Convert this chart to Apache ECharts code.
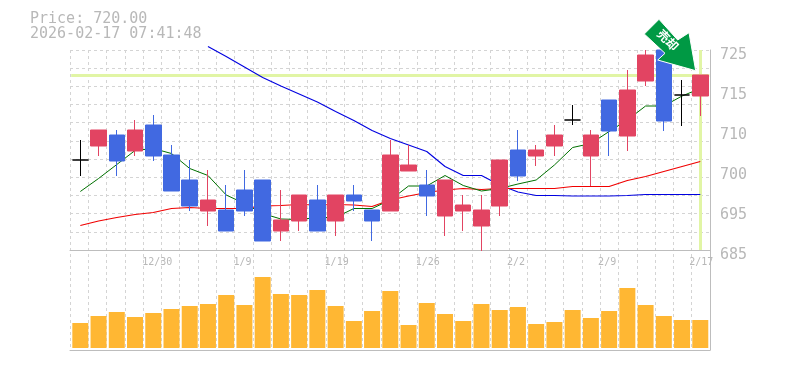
<!DOCTYPE html>
<html>
<head>
<meta charset="utf-8">
<style>
html, body { margin: 0; padding: 0; background: #fff; }
#chart { width: 785px; height: 370px; }
</style>
<script src="https://cdn.jsdelivr.net/npm/echarts@6/dist/echarts.min.js"></script>
</head>
<body>
<div id="chart"></div>
<script>
var dates = ['12/24','12/25','12/26','12/29','12/30','1/5','1/6','1/7','1/8','1/9','1/13','1/14','1/15','1/16','1/19','1/20','1/21','1/22','1/23','1/26','1/27','1/28','1/29','1/30','2/2','2/3','2/4','2/5','2/6','2/9','2/10','2/12','2/13','2/16','2/17']
var opens = [703,705.8,708,704.8,710,704,699,692.8,693,697,699,688.8,690.8,695,690.8,696,693,692.8,700.8,698,691.8,692.8,689.8,693.8,705,703.8,705.8,711,703.8,715,707.8,718.8,725,716,715.8]
var closes = [703,709,702.8,709,703.8,696.8,693.8,695,688.8,692.8,686.8,691,696,688.8,696,694.8,690.8,704,702,695.8,699,694,693,703,699.8,705,708,711,708,708.8,717,724,710.8,716,720]
var lows = [699.8,703.8,699.8,703.8,702.8,696.8,692.8,689.8,688.8,691.8,686.8,686.8,688.8,688.8,687.8,692.8,686.8,692.8,700.8,691.8,687.8,688.8,684.8,691.8,698.8,701.8,703.8,710,697.8,703.8,704.8,717.8,708.8,709.8,711.8]
var highs = [707,709,709,711,712,706,703,701,698,701,699,697,696,698,696,698,693,707,706,701,699,696,696,703,709,706,710,714,709,715,721,725,725,719,720]
var maShort = [696.7,699.3,702.1,704.9,705.3,704.3,701.3,699.9,696,694.3,692.3,691.2,691.1,691.5,691.5,693.3,693.3,695,697.8,697.8,699.9,697.9,696.8,697.3,698.2,699,702,705.5,706.3,708.7,711,713.8,713.8,715.8,717.3]
var maMid = [689.9,690.8,691.5,692.1,692.5,693.3,693.5,693.3,693.3,693.3,693.8,693.9,694.1,694,694.1,694,693.7,695,695.8,696.5,697,697.3,697.1,697.3,697.3,697.3,697.3,697.7,697.7,697.7,698.9,699.7,700.7,701.7,702.7]
var maLong = [null,null,null,null,null,null,null,725.7,723.7,721.6,719.5,717.8,716.2,714.6,712.7,710.9,708.9,707.3,706,704.7,701.7,699.9,699.9,698,696.6,695.9,695.9,695.8,695.8,695.8,695.9,696.1,696.1,696.1,696.1]
var volumes = [25,32,36,31,35,39,42,44,53,43,71,54,53,58,42,27,37,57,23,45,34,27,44,38,41,24,26,38,30,37,60,43,32,28,28]
var priceLabels = ['725','715','710','700','695','685']
var lastPrice = 720
var titleLines = ['Price: 720.00', '2026-02-17 07:41:48']
var arrowText = '売却'

var RED = '#e24462'
var BLUE = '#4169e1'
var GRID = '#d4d4d4'
var FRAME = '#bdbdbd'
var TEXT = '#b8b8b8'
var MONO = '"DejaVu Sans Mono", monospace'

var candles = dates.map(function (d, i) {
  var item = { value: [opens[i], closes[i], lows[i], highs[i]] }
  if (opens[i] === closes[i]) {
    item.itemStyle = { color: '#000', color0: '#000', borderColor: '#000', borderColor0: '#000', borderColorDoji: '#000' }
  }
  return item
})

var chart = echarts.init(document.getElementById('chart'), null, { renderer: 'canvas' })

chart.setOption({
  animation: false,
  backgroundColor: '#fff',
  grid: [
    { left: 71.2, top: 50, width: 638.2, height: 200 }, // candles
    { left: 71.2, top: 250, width: 638.2, height: 100 }, // volume
    { left: 70, top: 50, width: 640, height: 300 }, // vertical dashes + outer frame
    { left: 70, top: 50, width: 640, height: 200 }, // horizontal dashes
    { left: 60.2, top: 50, width: 638.2, height: 200 }, // date labels
    { left: 70, top: 55, width: 640, height: 200 } // price labels, a little under their level
  ],
  xAxis: [
    { gridIndex: 0, type: 'category', data: dates, show: false },
    { gridIndex: 1, type: 'category', data: dates, show: false },
    {
      gridIndex: 2, type: 'category', data: dates,
      axisLine: { show: true, lineStyle: { color: FRAME, width: 1 } },
      axisTick: { show: false }, axisLabel: { show: false },
      splitLine: { show: true, interval: 0, lineStyle: { color: GRID, type: [3, 3] } }
    },
    {
      gridIndex: 3, type: 'category', data: dates,
      axisLine: { show: true, lineStyle: { color: FRAME, width: 1 } },
      axisTick: { show: false }, axisLabel: { show: false }
    },
    {
      gridIndex: 4, type: 'category', data: dates,
      axisLine: { show: false }, axisTick: { show: false },
      axisLabel: {
        show: true, margin: 7, align: 'left', color: TEXT, fontFamily: MONO, fontSize: 10,
        interval: function (i) { return i % 5 === 4 }
      }
    },
    { gridIndex: 5, type: 'category', data: dates, show: false }
  ],
  yAxis: [
    { gridIndex: 0, type: 'value', min: 685, max: 725, show: false },
    { gridIndex: 1, type: 'value', min: -2, max: 98, show: false },
    {
      gridIndex: 2, type: 'value', min: 0, max: 1, position: 'right',
      axisLine: { show: true, lineStyle: { color: FRAME, width: 1 } },
      axisTick: { show: false }, axisLabel: { show: false }, splitLine: { show: false }
    },
    {
      gridIndex: 3, type: 'value', min: 0, max: 11, interval: 1,
      axisLine: { show: false }, axisTick: { show: false }, axisLabel: { show: false },
      splitLine: { show: true, lineStyle: { color: GRID, type: [3, 3] } }
    },
    { gridIndex: 4, type: 'value', min: 0, max: 1, show: false },
    {
      gridIndex: 5, type: 'value', min: 0, max: 5, interval: 1, position: 'right',
      axisLine: { show: false }, axisTick: { show: false }, splitLine: { show: false },
      axisLabel: {
        margin: 10, color: TEXT, fontFamily: MONO, fontSize: 15,
        formatter: function (v) { return priceLabels[5 - v] }
      }
    }
  ],
  series: [
    {
      name: 'last', type: 'line', xAxisIndex: 0, yAxisIndex: 0, data: [], z: 1, silent: true,
      markLine: {
        z: 1, silent: true, symbol: 'none', animation: false, label: { show: false },
        lineStyle: { color: '#e1f5a5', width: 3, type: 'solid' },
        data: [{ yAxis: lastPrice }, { xAxis: dates[dates.length - 1] }]
      }
    },
    { name: 'long', type: 'line', xAxisIndex: 0, yAxisIndex: 0, data: maLong, symbol: 'none', clip: false, z: 2, lineStyle: { color: '#0000e0', width: 1.1 } },
    { name: 'mid', type: 'line', xAxisIndex: 0, yAxisIndex: 0, data: maMid, symbol: 'none', z: 2, lineStyle: { color: '#f00000', width: 1.2 } },
    { name: 'short', type: 'line', xAxisIndex: 0, yAxisIndex: 0, data: maShort, symbol: 'none', z: 2, lineStyle: { color: '#007000', width: 1 } },
    {
      name: 'price', type: 'candlestick', xAxisIndex: 0, yAxisIndex: 0, data: candles, barWidth: 16, z: 3,
      itemStyle: { color: RED, color0: BLUE, borderColor: RED, borderColor0: BLUE, borderWidth: 1 }
    },
    {
      name: 'volume', type: 'bar', xAxisIndex: 1, yAxisIndex: 1, data: volumes, barWidth: 16, z: 3,
      itemStyle: { color: '#ffb733' }
    }
  ],
  graphic: [
    {
      type: 'text', left: 30, top: 12, silent: true,
      style: { text: titleLines.join('\n'), fill: TEXT, font: '15px ' + MONO, lineHeight: 15 }
    },
    {
      type: 'polygon', silent: true, z: 10,
      shape: { points: [[644.3, 34], [659, 19.3], [677.7, 40], [689, 32.7], [695.7, 70.7], [657.7, 60], [665, 53.3]] },
      style: { fill: '#009944', stroke: '#fff', lineWidth: 1 }
    },
    {
      type: 'text', silent: true, z: 11, x: 668, y: 40, rotation: -Math.PI / 4,
      style: { text: arrowText, fill: '#fff', font: 'bold 12px "Noto Sans CJK JP"', align: 'center', verticalAlign: 'middle' }
    }
  ]
})
</script>
</body>
</html>
